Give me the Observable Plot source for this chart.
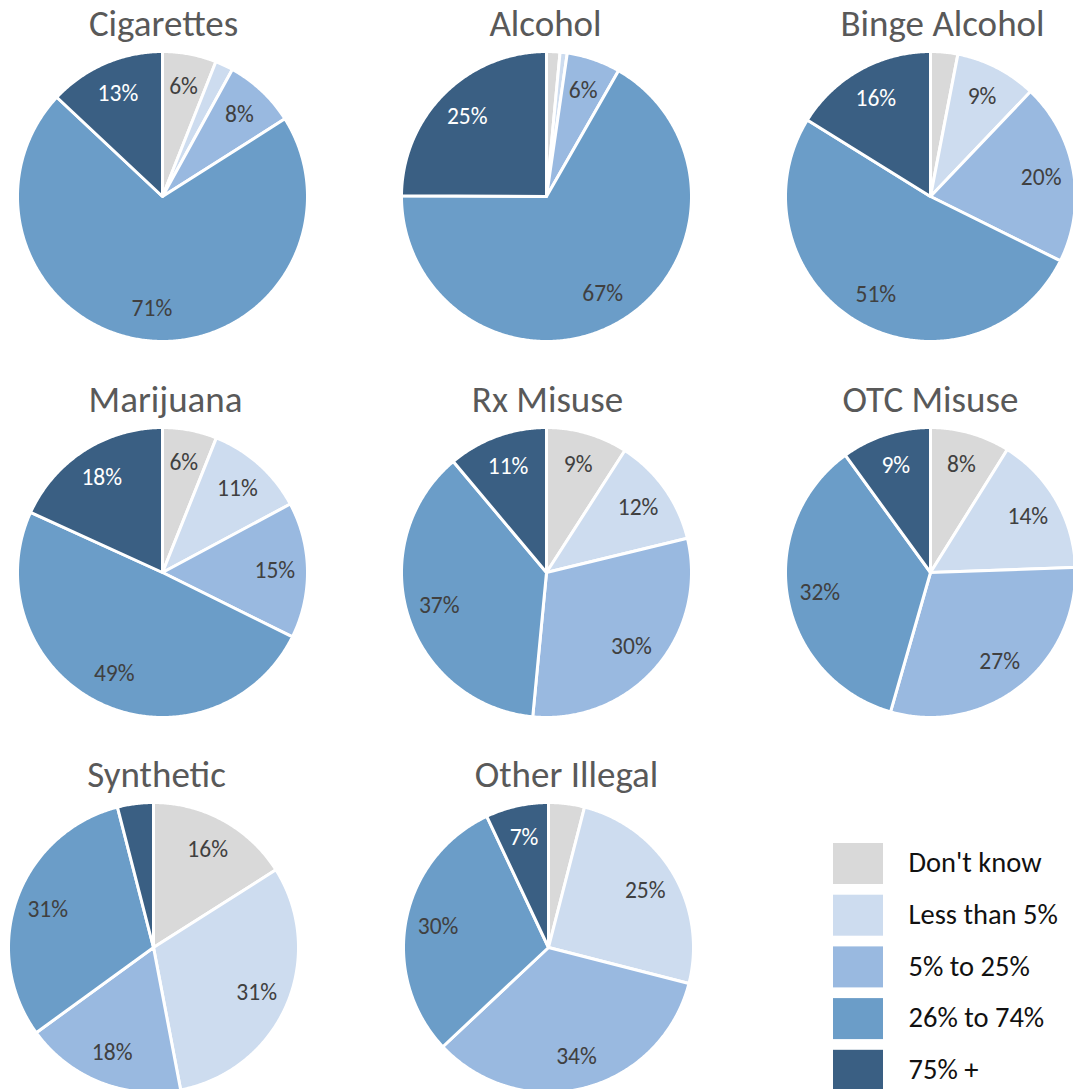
<!DOCTYPE html>
<html>
<head>
<meta charset="utf-8">
<script src="https://cdn.jsdelivr.net/npm/d3@7"></script>
<script src="https://cdn.jsdelivr.net/npm/@observablehq/plot@0.6"></script>
<style>
  html, body { margin: 0; padding: 0; background: #fff; }
  svg { display: block; }
</style>
</head>
<body>
<div id="chart"></div>
<script>
// ---- Data ----
const categories = ["Don't know", "Less than 5%", "5% to 25%", "26% to 74%", "75% +"];
const colors = ["#d9d9d9", "#cddcef", "#99b9e0", "#6b9dc8", "#3a5f83"];
const charts = ["Cigarettes", "Alcohol", "Binge Alcohol", "Marijuana", "Rx Misuse", "OTC Misuse", "Synthetic", "Other Illegal"];

const cigarettes   = [6, 2, 8, 71, 13];
const alcohol      = [1.5, 0.8, 6, 67, 25];
const bingeAlcohol = [3, 9, 20, 51, 16];
const marijuana    = [6, 11, 15, 49, 18];
const rxMisuse     = [9, 12, 30, 37, 11];
const otcMisuse    = [8, 14, 27, 32, 9];
const synthetic    = [16, 31, 18, 31, 4];
const otherIllegal = [4, 25, 34, 30, 7];
const seriesValues = [cigarettes, alcohol, bingeAlcohol, marijuana, rxMisuse, otcMisuse, synthetic, otherIllegal];

// ---- Layout (pixel frame) ----
const W = 1073, H = 1089;
const R = 145;
const panelCenters = [
  [162, 196], [546, 196], [930, 196],
  [162, 572], [546, 572], [930, 572],
  [153, 947], [548, 947]
];
const titleDx = [1, -1, 12, 3, 1, 0, 3, 18];

// ---- Build slice polygons ----
const pie = d3.pie().sort(null).value(d => d);
const polys = [];
const labels = [];
seriesValues.forEach((vals, ci) => {
  const [cx, cy] = panelCenters[ci];
  const arcs = pie(vals);
  arcs.forEach((a, si) => {
    const id = ci + "-" + si;
    polys.push({id, cat: categories[si], px: cx, py: cy});
    const n = Math.max(2, Math.ceil((a.endAngle - a.startAngle) / (Math.PI / 360)));
    for (let k = 0; k <= n; k++) {
      const t = a.startAngle + (a.endAngle - a.startAngle) * k / n;
      polys.push({id, cat: categories[si], px: cx + R * Math.sin(t), py: cy - R * Math.cos(t)});
    }
    if (vals[si] >= 5) {
      const m = (a.startAngle + a.endAngle) / 2;
      const lr = R * 0.775;
      labels.push({
        px: cx + lr * Math.sin(m), py: cy - lr * Math.cos(m),
        text: Math.round(vals[si]) + "%",
        dark: si === 4
      });
    }
  });
});

const titles = charts.map((name, i) => ({
  name, px: panelCenters[i][0] + titleDx[i], py: panelCenters[i][1] - R - 27
}));

const legendItems = categories.map((c, i) => ({
  cat: c,
  x1: 833, x2: 883,
  y1: 843 + i * 51.7, y2: 843 + i * 51.7 + 41,
  ty: 843 + i * 51.7 + 19.5
}));

const font = "Carlito, Calibri, Lato, sans-serif";

const plot = Plot.plot({
  width: W, height: H,
  margin: 0,
  x: {domain: [0, W], range: [0, W], axis: null},
  y: {domain: [0, H], range: [0, H], axis: null},
  color: {domain: categories, range: colors},
  style: {fontFamily: font, background: "#fff"},
  marks: [
    Plot.line(polys, {x: "px", y: "py", z: "id", fill: "cat", stroke: "white", strokeWidth: 3, strokeLinejoin: "round", curve: "linear-closed"}),
    Plot.text(labels, {x: "px", y: "py", text: "text", fill: d => d.dark ? "#ffffff" : "#404040", fontSize: 23.5, textAnchor: "middle", lineAnchor: "middle"}),
    Plot.text(titles, {x: "px", y: "py", text: "name", fill: "#595959", fontSize: 37, textAnchor: "middle", lineAnchor: "middle"}),
    Plot.rect(legendItems, {x1: "x1", x2: "x2", y1: "y1", y2: "y2", fill: "cat"}),
    Plot.text(legendItems, {x: 908, y: "ty", text: "cat", fill: "#111", fontSize: 28.5, textAnchor: "start", lineAnchor: "middle"})
  ]
});
document.getElementById("chart").appendChild(plot);
</script>
</body>
</html>
